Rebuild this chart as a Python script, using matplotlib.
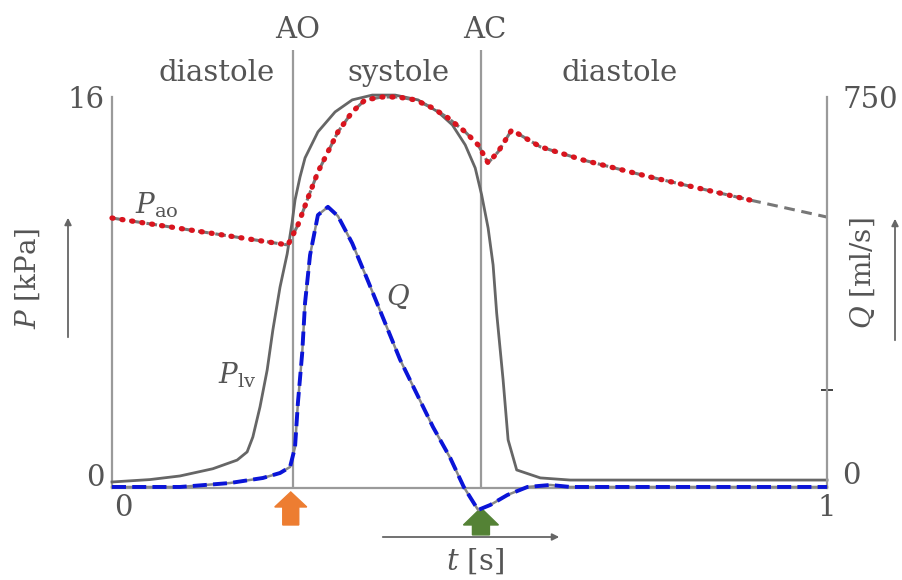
import matplotlib
matplotlib.use('Agg')
import matplotlib.pyplot as plt
import matplotlib.transforms as mtransforms
from matplotlib.patches import FancyArrow, FancyArrowPatch

plt.rcParams['font.family'] = ['DejaVu Serif']
plt.rcParams['mathtext.fontset'] = 'dejavuserif'

W, H = 903, 580

# ---------------- data ----------------
t_plv = [0, 0.053, 0.095, 0.141, 0.175, 0.189, 0.197, 0.207, 0.217, 0.225, 0.235, 0.245,
         0.252, 0.256, 0.263, 0.270, 0.288, 0.312, 0.336, 0.364, 0.396, 0.428, 0.456,
         0.476, 0.494, 0.508, 0.517, 0.526, 0.533, 0.538, 0.547, 0.554, 0.566, 0.599,
         0.641, 1.0]
p_lv = [0.0, 0.1, 0.25, 0.55, 0.91, 1.25, 1.87, 3.12, 4.65, 6.32, 8.1, 9.48,
        10.81, 11.72, 12.68, 13.47, 14.55, 15.38, 15.88, 16.08, 16.08, 15.88, 15.38,
        14.84, 14.01, 13.05, 11.93, 10.56, 9.02, 7.02, 4.24, 1.75, 0.5, 0.17,
        0.08, 0.08]

t_ao = [0, 0.246, 0.260, 0.274, 0.288, 0.302, 0.316, 0.336, 0.354, 0.378, 0.400, 0.424,
        0.448, 0.470, 0.494, 0.512, 0.526, 0.540, 0.559, 0.599, 0.659, 0.752, 0.892]
p_ao = [10.97, 9.85, 10.68, 11.8, 12.88, 13.72, 14.55, 15.38, 15.88, 16.0, 16.0, 15.88,
        15.55, 15.13, 14.55, 14.01, 13.26, 13.72, 14.63, 13.93, 13.38, 12.68, 11.72]
t_ao_tail = [0.892, 1.0]
p_ao_tail = [11.72, 11.01]

t_q = [0, 0.095, 0.165, 0.211, 0.235, 0.249, 0.256, 0.260, 0.266, 0.270, 0.277, 0.288,
       0.302, 0.316, 0.336, 0.357, 0.403, 0.449, 0.473, 0.492, 0.512, 0.529, 0.553,
       0.581, 0.613, 0.641, 1.0]
q = [-9.7, -9.7, -2, 7.8, 17.5, 29.2, 68, 154, 251, 349, 442, 520,
     536, 518, 465, 395, 238, 107, 47, -9.7, -54.5, -44.8, -25.3,
     -9.7, -5.8, -9.7, -9.7]

event_t = [0.253, 0.516]
event_labels = ['AO', 'AC']
phase_t = [0.147, 0.40, 0.71]
phase_labels = ['diastole', 'systole', 'diastole']

p_ticks = [0, 16]
q_ticks = [0, 750]
t_ticks = [0, 1]

# ---------------- figure ----------------
TXT = '#555555'
AX = '#9a9a9a'

fig = plt.figure(figsize=(W / 100, H / 100), dpi=100)
ax = fig.add_axes([112 / W, 92 / H, 715 / W, 391 / H])
ax.set_xlim(0, 1)
ax.set_ylim(-0.25, 16)
ax2 = ax.twinx()
ax2.set_ylim(-0.25 * 750 / 16, 750)

for s in ['top', 'right']:
    ax.spines[s].set_visible(False)
for s in ['top', 'left', 'bottom']:
    ax2.spines[s].set_visible(False)
for sp in [ax.spines['left'], ax.spines['bottom'], ax2.spines['right']]:
    sp.set_color(AX)
    sp.set_linewidth(1.6)

# event lines
ax.vlines(event_t, -0.25, 17.96, colors=AX, lw=1.6, clip_on=False, zorder=1)

# curves
ax.plot(t_plv, p_lv, color='#666666', lw=2.0, zorder=3, clip_on=False,
        solid_joinstyle='round')
ax.plot(t_ao + t_ao_tail[1:], p_ao + p_ao_tail[1:], color='#777777', lw=2.2,
        dashes=(3.5, 2.2), zorder=4, clip_on=False)
ax.plot(t_ao, p_ao, color='#d9141e', lw=3.8, dashes=(0.2, 1.7), dash_capstyle='round',
        zorder=5, clip_on=False)

ax2.plot(t_q, q, color='#888888', lw=1.8, zorder=3, clip_on=False)
ax2.plot(t_q, q, color='#0a14d8', lw=2.8, dashes=(3.6, 1.6), zorder=4, clip_on=False)

# ticks
ax.set_xticks(t_ticks)
ax.set_xticklabels([str(v) for v in t_ticks])
ax.set_yticks(p_ticks)
ax.set_yticklabels([str(v) for v in p_ticks])
ax2.set_yticks(q_ticks)
ax2.set_yticklabels([str(v) for v in q_ticks])
ax.tick_params(axis='both', length=0, labelsize=21, labelcolor=TXT)
ax.tick_params(axis='y', pad=5)
ax.tick_params(axis='x', pad=4)
ax2.tick_params(axis='y', length=0, labelsize=21, labelcolor=TXT, pad=11)
ax2.set_yticks([179], minor=True)
ax2.tick_params(axis='y', which='minor', length=9, direction='inout', color='#222222', width=1.2)

def shift(lbl, dx, dy):
    lbl.set_transform(lbl.get_transform() +
                      mtransforms.ScaledTranslation(dx / 100, dy / 100, fig.dpi_scale_trans))

for lbl in ax.get_yticklabels():
    if lbl.get_text() == '0':
        shift(lbl, 0, 7)
for lbl in ax2.get_yticklabels():
    if lbl.get_text() == '0':
        shift(lbl, 0, 9)
for lbl in ax.get_xticklabels():
    if lbl.get_text() == '0':
        shift(lbl, 11, 0)

# event & phase labels
for tx, lab in zip(event_t, event_labels):
    ax.text(tx + 0.006, 18.79, lab, ha='center', va='center', fontsize=21, color=TXT)
for tx, lab in zip(phase_t, phase_labels):
    ax.text(tx, 17.0, lab, ha='center', va='center', fontsize=21, color=TXT)

# curve labels
ax.text(0.062, 11.5, r'$P_{\mathrm{ao}}$', ha='center', va='center', fontsize=20, color=TXT)
ax.text(0.40, 7.7, r'$Q$', ha='center', va='center', fontsize=20, color=TXT)
ax.text(0.175, 4.45, r'$P_{\mathrm{lv}}$', ha='center', va='center', fontsize=20, color=TXT)

# valve arrows
ax.add_patch(FancyArrow(0.250, -1.787, 0, 1.371, width=16 / 715, head_width=32 / 715,
                        head_length=15 / 24.06, length_includes_head=True,
                        color='#ed7d31', clip_on=False, zorder=6))
ax.add_patch(FancyArrow(0.516, -2.2, 0, 1.12, width=17 / 715, head_width=35 / 715,
                        head_length=17 / 24.06, length_includes_head=True,
                        color='#548235', clip_on=False, zorder=6))

# axis labels with arrows
def fp(x, y):
    return (x / W, 1 - y / H)

fig.text(*fp(28, 278), r'$P$ [kPa]', rotation=90, ha='center', va='center', fontsize=20, color=TXT)
fig.text(*fp(863, 273), r'$Q$ [ml/s]', rotation=90, ha='center', va='center', fontsize=20, color=TXT)
fig.text(*fp(475, 561), r'$t$ [s]', ha='center', va='center', fontsize=21, color=TXT)

arrow_kw = dict(arrowstyle='-|>', color='#666666', lw=1.3, mutation_scale=10)
fig.add_artist(FancyArrowPatch(fp(68, 340), fp(68, 215), transform=fig.transFigure, **arrow_kw))
fig.add_artist(FancyArrowPatch(fp(895, 343), fp(895, 216), transform=fig.transFigure, **arrow_kw))
fig.add_artist(FancyArrowPatch(fp(380, 537), fp(562, 537), transform=fig.transFigure, **arrow_kw))

fig.savefig('out.png', dpi=100, facecolor='white')
